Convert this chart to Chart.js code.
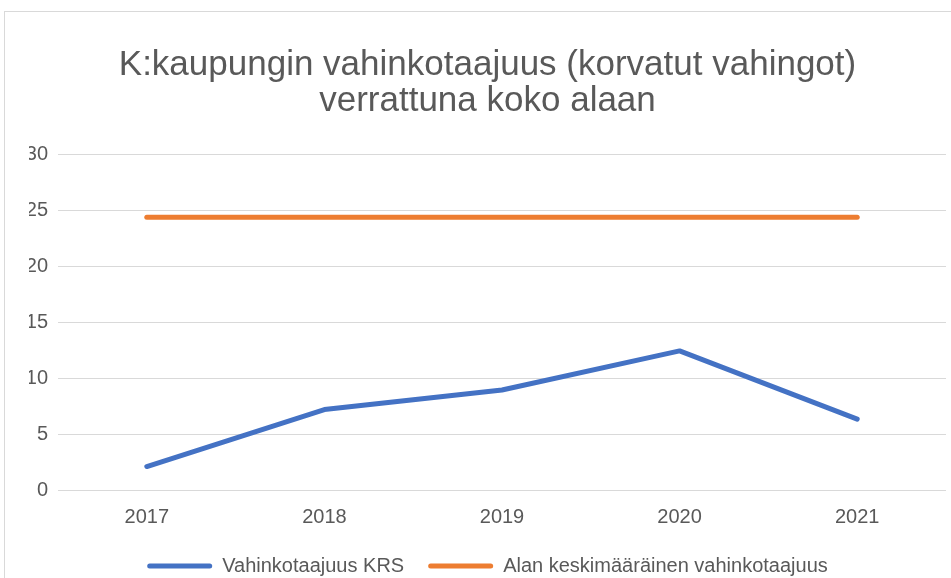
<!DOCTYPE html>
<html lang="fi">
<head>
    <meta charset="UTF-8">
    <title>Vahinkotaajuus</title>
    <script src="https://cdn.jsdelivr.net/npm/chart.js"></script>
    <style>
        html, body {
            margin: 0;
            padding: 0;
            width: 951px;
            height: 578px;
            overflow: hidden;
            background: #fff;
        }
        #chart-box {
            position: absolute;
            left: 4px;
            top: 11px;
            width: 955px;
            height: 600px;
            border: 1px solid #d9d9d9;
        }
    </style>
</head>
<body>
    <div id="chart-box">
        <canvas id="myChart" width="955" height="574"></canvas>
    </div>

    <script>
        // data
        const years = ['2017', '2018', '2019', '2020', '2021'];
        const krsValues = [2.1, 7.2, 8.95, 12.45, 6.35];
        const alaValues = [24.4, 24.4, 24.4, 24.4, 24.4];
        const titleLines = ['K:kaupungin vahinkotaajuus (korvatut vahingot)', 'verrattuna koko alaan'];

        const grey = '#595959';
        const font = 'Liberation Sans, Arial, sans-serif';

        const ctx = document.getElementById('myChart').getContext('2d');
        new Chart(ctx, {
            type: 'line',
            data: {
                labels: years,
                datasets: [
                    {
                        label: 'Vahinkotaajuus KRS',
                        data: krsValues,
                        borderColor: '#4472C4',
                        backgroundColor: '#4472C4',
                        borderWidth: 5,
                        borderCapStyle: 'round',
                        borderJoinStyle: 'round',
                        pointRadius: 0,
                        tension: 0,
                    },
                    {
                        label: 'Alan keskimääräinen vahinkotaajuus',
                        data: alaValues,
                        borderColor: '#ED7D31',
                        backgroundColor: '#ED7D31',
                        borderWidth: 5,
                        borderCapStyle: 'round',
                        borderJoinStyle: 'round',
                        pointRadius: 0,
                        tension: 0,
                    },
                ],
            },
            options: {
                responsive: false,
                animation: false,
                layout: {
                    // left padding shifts title/legend centre to match the reference
                    padding: { left: 24, right: 14, top: 0, bottom: 0 },
                },
                plugins: {
                    tooltip: { enabled: false },
                    title: {
                        display: true,
                        text: titleLines,
                        color: grey,
                        font: { family: font, size: 35, weight: 'normal', lineHeight: 1.04 },
                        padding: { top: 35, bottom: 35 },
                    },
                    legend: {
                        position: 'bottom',
                        labels: {
                            color: grey,
                            font: { family: font, size: 20 },
                            boxWidth: 65,
                            boxHeight: 5,
                            padding: 24,
                            useBorderRadius: true,
                            borderRadius: 2.5,
                            generateLabels: (chart) => {
                                const items = Chart.defaults.plugins.legend.labels.generateLabels(chart);
                                items.forEach(it => { it.lineWidth = 0; });
                                return items;
                            },
                        },
                    },
                },
                scales: {
                    x: {
                        offset: true,
                        grid: { display: false, offset: true },
                        border: { display: false },
                        ticks: {
                            color: grey,
                            font: { family: font, size: 20 },
                            padding: 7,
                            maxRotation: 0,
                        },
                        afterFit: (scale) => { scale.height = 42; },
                    },
                    y: {
                        min: 0,
                        max: 30,
                        grid: {
                            color: '#d9d9d9',
                            lineWidth: 1,
                            drawTicks: false,
                        },
                        border: { display: false },
                        ticks: {
                            stepSize: 5,
                            color: grey,
                            font: { family: font, size: 20 },
                            padding: 10,
                        },
                        afterFit: (scale) => { scale.width = 29; },
                    },
                },
            },
        });
    </script>
</body>
</html>
